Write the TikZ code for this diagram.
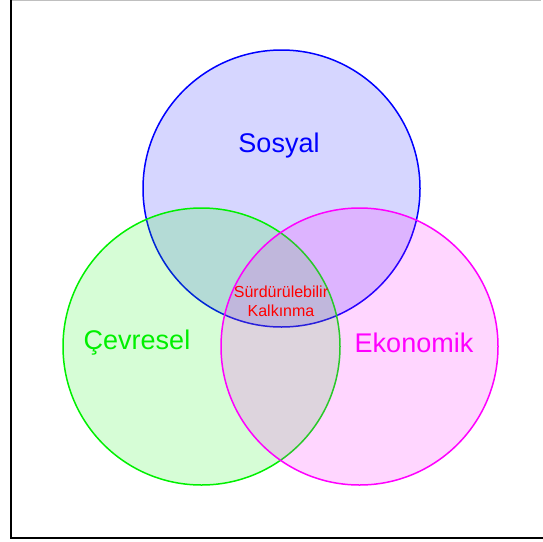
\documentclass[tikz,border=0pt]{standalone}
\usepackage{fontspec}
\setmainfont{Liberation Sans}
\usetikzlibrary{positioning}
\definecolor{sosblue}{RGB}{0,0,255}
\definecolor{cevgreen}{RGB}{0,240,0}
\definecolor{ekomag}{RGB}{255,0,255}
\tikzset{
setc/.style={circle, draw, line width=1.5pt, minimum size=277pt, inner sep=0pt, fill opacity=0.16},
biglbl/.style={font=\fontsize{27}{31}\selectfont},
smalllbl/.style={font=\fontsize{16}{19}\selectfont, align=center, text=red, inner sep=0pt}
}
\begin{document}
\begin{tikzpicture}[x=1pt,y=-1pt]
\useasboundingbox (0,0) rectangle (543,541);
\draw[gray!50, line width=1pt] (10,0.5) -- (541,0.5);
\draw[line width=2.2pt] (11,0) -- (11,538) -- (543,538);

\node[setc, draw=sosblue, fill=sosblue](sos) at (281.5,188.5){};
\node[setc, draw=cevgreen, fill=cevgreen](cev) at (201.5,346.5){};
\node[setc, draw=ekomag, fill=ekomag](eko) at (359.5,346.5){};

\node[biglbl, text=sosblue] at (279,146){Sosyal};
\node[biglbl, text=cevgreen] at (137,343){Çevresel};
\node[biglbl, text=ekomag] at (414,343){Ekonomik};
\node[smalllbl](sk) at (281,301){Sürdürülebilir\\Kalkınma};
\end{tikzpicture}
\end{document}
